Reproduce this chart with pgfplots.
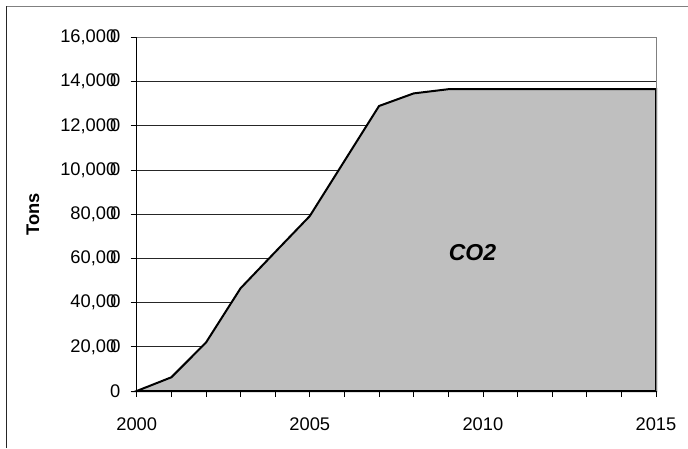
\documentclass[border=0pt]{standalone}
\usepackage{pgfplots}
\pgfplotsset{compat=1.18}
\usepackage{fontspec}
\setmainfont{Liberation Sans}
\newcommand\oo{0\kern-0.33em0}
\begin{document}
\fontsize{18.3}{22}\selectfont
\begin{tikzpicture}
\useasboundingbox (0pt,0pt) rectangle (688pt,448pt);
\draw[black!85,line width=1pt] (6.5pt,0pt) -- (6.5pt,441.5pt);
\draw[gray,line width=1pt] (6.5pt,441.5pt) -- (688pt,441.5pt);
\begin{axis}[
  at={(136.7pt,57pt)}, anchor=south west,
  scale only axis, width=519.3pt, height=353.5pt,
  xmin=2000, xmax=2015, ymin=0, ymax=160000,
  axis lines=left, axis line style={-,black,line width=1pt},
  xtick={2000,2005,2010,2015},
  xticklabels={2000,2005,2010,2015},
  minor xtick={2001,2002,2003,2004,2006,2007,2008,2009,2011,2012,2013,2014},
  ytick={0,20000,40000,60000,80000,100000,120000,140000,160000},
  yticklabels={0,{20,0\oo},{40,0\oo},{60,0\oo},{80,0\oo},{10,00\oo},{12,00\oo},{14,00\oo},{16,00\oo}},
  tick align=outside, major tick length=6pt, minor tick length=6pt,
  tick style={black,line width=0.8pt},
  ymajorgrids, grid style={black!85,line width=0.8pt},
  tick label style={font=\fontsize{18.3}{22}\selectfont},
  xticklabel style={yshift=-14pt},
  yticklabel style={xshift=-4pt},
  scaled y ticks=false,
  clip=false,
]
\addplot[fill=black!25, draw=black, line width=2pt] coordinates {
 (2000,0) (2001,6200) (2002,21900) (2003,46500) (2004,62900) (2005,79200)
 (2006,104100) (2007,129000) (2008,134700) (2009,136600) (2010,136600)
 (2011,136600) (2012,136600) (2013,136600) (2014,136600) (2015,136600)
} \closedcycle;
\draw[gray,line width=1pt] (rel axis cs:0,1) -- (rel axis cs:1,1) -- (rel axis cs:1,0);
\draw[black,line width=1pt] (rel axis cs:0,0) -- (rel axis cs:1,0);
\node[rotate=90,font=\bfseries] at (rel axis cs:-0.1997,0.5) {Tons};
\node[font=\fontsize{23}{26}\selectfont\bfseries\itshape] at (axis cs:2009.7,62500) {CO2};
\end{axis}
\end{tikzpicture}
\end{document}
